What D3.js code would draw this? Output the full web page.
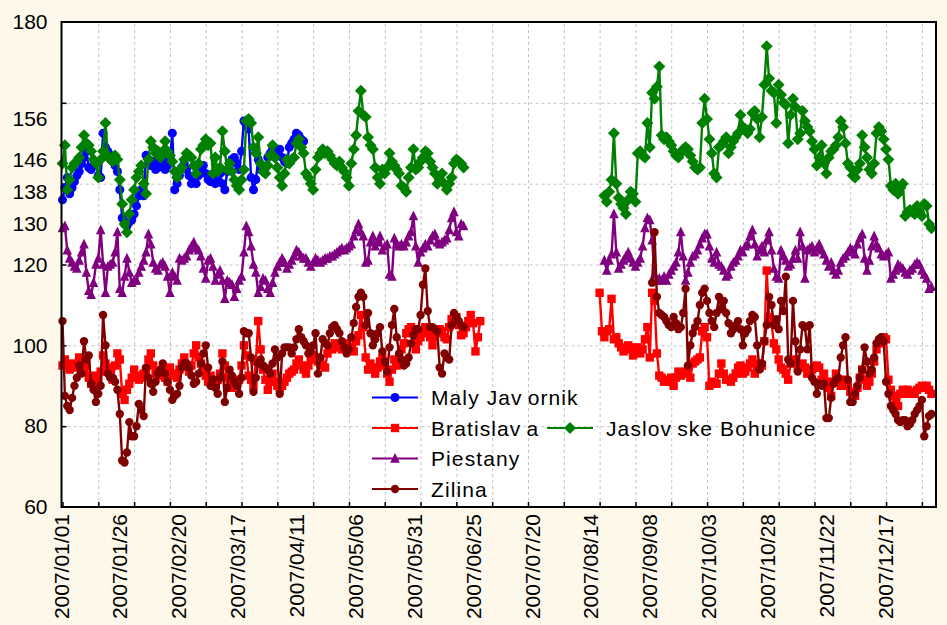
<!DOCTYPE html>
<html>
<head>
<meta charset="utf-8">
<script src="https://cdn.jsdelivr.net/npm/d3@7"></script>
<style>
  html, body { margin: 0; padding: 0; background: #FDF8EA; }
  svg { display: block; }
  text { font-family: "Liberation Sans", Arial, sans-serif; fill: #000; }
</style>
</head>
<body>
<svg id="chart" width="947" height="625"></svg>
<script>
// ---- axis labels ----
const xTickLabels = ["2007/01/01","2007/01/26","2007/02/20","2007/03/17","2007/04/11",
  "2007/05/06","2007/05/31","2007/06/25","2007/07/20","2007/08/14","2007/09/08",
  "2007/10/03","2007/10/28","2007/11/22","2007/12/17"];
const yTickLabels = [60, 80, 100, 120, 130, 138, 146, 156, 180];
const yGridValues = [80, 100, 120, 140, 160];
const gridStepDays = 15;

// ---- daily series, each segment starts on the given date ----
const malyJavornikStart = "2007/01/01";
const malyJavornik = [
  136,139,141.5,137.5,139,140.5,142,143,145,146.5,
  148,144,143.5,144.5,145,142,141.5,152.5,149,148,
  147,146,144.5,143,138.5,131.5,130,129.5,130.5,131,
  132.5,134.5,137,138.5,137,147,146,144.5,145.5,143.5,
  144,145,146,143.5,144.5,146,152.5,138.5,140,142,
  144,145,143.5,142,140,140.5,140,142,143.5,144.5,
  142.5,141,140.5,141.5,140,141,142.5,140,138.5,143,
  145,146,146.5,145,143.5,148,155.5,154.5,153.5,141.5,
  138.5,141,146,143.5,144,144,146.5,147.5,148.5,146.5,
  147,148.5,146.5,145.5,145,149,150,151,152.5,152,
  151,150.5
];

const bratislava1Start = "2007/01/01";
const bratislava1 = [
  95,96.5,95,94,95.5,95,94.5,97,95,94,
  95,92,90.5,92.5,90,92,93.5,97.5,95.5,94.5,
  94,91.5,95,98,96.5,88,86.5,89,90.5,92,
  94,92.5,91.5,92,93,94,96.5,98,95,93,
  92.5,93.5,94,92,91,94.5,93,92.5,92,94,
  95.5,97,95,93.5,95,98,100,97,95.5,94.5,
  92.5,91,92.5,91,90,91.5,93,98,95,92,
  90,89.5,90,91,91.5,95,100,97.5,92.5,91.5,
  90,96,106,99,94,91.5,89,91,93,91,
  90,89.5,90,91,92,93,93.5,94,95.5,96.5,
  95,94,93,95,96.5,97.5,97,96,95.5,95,
  94.5,98,99.5,99,100.5,100,99.5,99,100,100.5,
  99.5,99,98.5,101,102.5,107.5,104.5,97,94,95.5,
  94.5,93,94.5,96,97,95,93,91,94,96.5,
  95,97,99,100.5,103,104,104.5,104,99,101,
  102,103,104.5,103.5,102,100,102,103,104,103.5,
  102,101.5,104.5,106.5,107,107,105,102.5,103,104.5,
  106,107.5,105.5,98.5,102,106
];
const bratislava2Start = "2007/08/14";
const bratislava2 = [
  113,103.5,102,103.5,104,111.5,101.5,102,100.5,99.5,
  98.5,99,100,99.5,97.5,98.5,99.5,98,99,101.5,
  104.5,97,113,111,98,92.5,92,91,91.5,91,
  92,90,92,93.5,92.5,93,93.5,94,92,95.5,
  96,96.5,97,103.5,104.5,102,90,91,90.5,90.5,
  93,95.5,93,91.5,91.5,91,92,93,94.5,95,
  93,93.5,94.5,95.5,96.5,93,95.5,94.5,95,101,
  118.5,107,105.5,100.5,99,96.5,94.5,94,93,91.5,
  95.5,96,96.5,94.5,95,95.5,94.5,93,94,94,
  94.5,95,94.5,91.5,93,91,89.5,87.5,91,93,
  91.5,90,91.5,91,90,88.5,88,87.5,89.5,92,
  94,91.5,90,91,93,96,99,100.5,101.5,102,
  101.5,91.5,89,87.5,86,85,88,89,88,89,
  88.5,88,88,89,89.5,90,89.5,90,89,88
];

const jaslovske1Start = "2007/01/01";
const jaslovske1 = [
  145,149.5,138.5,141,144,145,145.5,146.5,149,152,
  150,149.5,148,146,145,141.5,146,148,155,147,
  146,145.5,147,146,141,135,130,128,132.5,136,
  138.5,141.5,143,144.5,140,137.5,146,150.5,149,147.5,
  148,146.5,148,150.5,148,147,145.5,143,141.5,143,
  144,146,147.5,147,146.5,144.5,142.5,145,148.5,149.5,
  151,149.5,150,142.5,146.5,143,144,153,148,143.5,
  145,143,141,139.5,138.5,141,143.5,155.5,156,155,
  149,147.5,151.5,145,143,142.5,144.5,147,149.5,146.5,
  144,141.5,139.5,142.5,146,145,146,146.5,150,151,
  149,147.5,142.5,141.5,140,138.5,143.5,146.5,147.5,148.5,
  147.5,148,147,146,145,144.5,145.5,144,143,141.5,
  139.5,145,148.5,152,158,163,157,156.5,151.5,149.5,
  148.5,144,141.5,140,143.5,142.5,144,147.5,145.5,144.5,
  143.5,142.5,139.5,139,138,141.5,144,148.5,143.5,144,
  145.5,146.5,148,147.5,145.5,144,142.5,140,141,142.5,
  140,138.5,140,141.5,145,146,145.5,145,144
];
const jaslovske2Start = "2007/08/16";
const jaslovske2 = [
  137,135.5,138,141,152.5,140,136.5,135,134,132.5,
  136,138,137.5,135.5,147.5,148,147,146.5,155,149,
  162.5,161,164,169,152,151,151.5,150.5,149.5,148,
  147,146.5,147.5,148.5,149,148.5,147,145.5,144,143.5,
  144,155,161,156,151,147.5,142.5,141.5,149,149.5,
  150.5,151.5,147.5,149,150.5,151.5,152.5,157,154,153.5,
  152.5,153.5,157.5,158,156,151.5,156.5,164.5,174,166,
  163,162.5,155,164.5,162,160,159.5,150,157,161,
  159,151,152.5,158,155.5,154,153,150.5,148.5,144.5,
  146.5,149.5,145,142.5,146.5,148,148.5,149.5,151.5,155.5,
  154,150,145,144,142,141.5,143.5,145,152,149,
  146.5,143.5,142.5,145,152.5,154,153,151,148.5,146,
  139.5,138.5,140,137.5,139,140,132,133,133.5,133,
  132.5,134.5,133,132,135,134.5,130,129
];

const piestany1Start = "2007/01/01";
const piestany1 = [
  129,129.5,123.5,121.5,120.5,119.5,119,121,123,125,
  118,113.5,112.5,115.5,120,121.5,128.5,120,113,119.5,
  120,120.5,123,128,114,113,117,121.5,118,115.5,
  116,116,118,119.5,121,123,127.5,125,120.5,119,
  118.5,120,120.5,119.5,117,113,118,117,116,121.5,
  121,121.5,122,123.5,124.5,125.5,124,123.5,122,119,
  116.5,121,121.5,119.5,116,117.5,118.5,116,111.5,116,
  115.5,115,112,114,116,117,123,129.5,128,124.5,
  120,118,113,114.5,116.5,116,114,113,115.5,118,
  119.5,120.5,121.5,120.5,119,120,121,122,123.5,123,
  122,121.5,121.5,120.5,119.5,120.5,121.5,121,120.5,121,
  121.5,121.5,122,122,122.5,123,123.5,124,123.5,124,
  124.5,125,127,128.5,130,128,127,120.5,121,125.5,
  127,124.5,125.5,127,123.5,124.5,125,117.5,117,126.5,
  125,124.5,125,124.5,125.5,127,128,132,124.5,120.5,
  123,124,125,124.5,126,127,127.5,125.5,125,125.5,
  126,126.5,128.5,131.5,133,128,127,130,129.5
];
const piestany2Start = "2007/08/16";
const piestany2 = [
  121,118.5,121,122.5,132.5,123,119,120,121,122,
  123,121.5,120.5,119.5,120.5,121.5,124.5,129,131.5,131,
  126,117.5,116,116.5,116,117,116,117.5,118.5,119.5,
  120.5,123,128,122,116,118,120.5,122,122.5,123.5,
  125,126.5,127.5,127.5,124.5,121.5,120.5,123,120,119.5,
  118.5,117,117.5,119.5,120.5,121,122,123.5,123,124.5,
  125,127,128.5,125,122,123.5,124.5,123,126,128,
  123.5,119,117,116.5,123.5,122,121,119.5,120,121.5,
  123.5,121.5,128,124.5,116.5,123.5,124,124.5,123,124,
  125,123.5,122.5,121,119.5,120.5,118.5,117.5,118.5,120.5,
  121.5,122,123,124,123.5,122.5,125,126.5,127.5,121.5,
  118.5,121,124.5,127,125,124,122.5,122,122.5,123,
  116.5,117.5,118.5,120,119.5,119,118,117.5,118.5,119,
  120,120.5,120,118.5,117.5,116.5,114,114.5
];

const zilina1Start = "2007/01/01";
const zilina1 = [
  106,87.5,85,84,87,90,92,95,93,101,
  96.5,97.5,90.5,89,86,88,90,107.5,100,93,
  92,92,91,89,83,71.5,71,73.5,81,77.5,
  77.5,80,85.5,84,82.5,94.5,92,90.5,88.5,91,
  93,94,95.5,93,91,89,86.5,87.5,88,90,
  94.5,95.5,95.5,94.5,92.5,90.5,91,93,95.5,98,
  100,94.5,90,91.5,89.5,88,92,96,86,89.5,
  94,92.5,91,90,88,92,103.5,103,103,97,
  88.5,92,95.5,96.5,95,94.5,94,93,95.5,99,
  97,88,98,99.5,99.5,99.5,98,99.5,101.5,104,
  102,101,100,98,98.5,100,103,93,97,101.5,
  100.5,100,103,104.5,105,104,103,101,99.5,98,
  99,102,105.5,109.5,112,113,112,105,108,103,
  100,101.5,103,104.5,98.5,96,93.5,99.5,105,109,
  102,98,96.5,95,95.5,97,100.5,102.5,104,104,
  107.5,115,119,108.5,104.5,104.5,104,103.5,94.5,93,
  98,97,96.5,105,108,107,106,105,104.5
];
const zilina2Start = "2007/09/05";
const zilina2 = [
  115.5,128,112,108,107.5,107,106,105,104.5,107,
  105.5,104,104.5,108,114,95,100,103,104.5,106,
  110,113,114,111,108,106,104.5,108,112,109,
  111,108,105.5,103,104,105,106,104,100,103,
  104,106,107.5,107,100,94,95.5,101,105,112,
  110,105,106.5,104,111,108.5,117,96.5,95.5,111,
  101,93.5,99,105,104.5,99,105,92,91,88,
  90.5,90,90.5,82,82,87,90.5,91.5,92,97,
  100,102,91.5,86,86,88,90,92,94,99.5,
  96,93,94,97,100.5,101.5,102,101,91,88,
  85,84,83,81.5,81,81.5,81.5,80,80.5,81.5,
  83,84,85,86.5,77.5,80,82.5,83
];

// ---- series definitions (drawing order) ----
const series = [
  { name: "Maly Javornik", color: "#0000FF", marker: "circle",
    segments: [[malyJavornikStart, malyJavornik]] },
  { name: "Bratislava", color: "#FF0000", marker: "square",
    segments: [[bratislava1Start, bratislava1], [bratislava2Start, bratislava2]] },
  { name: "Jaslovske Bohunice", color: "#008000", marker: "diamond",
    segments: [[jaslovske1Start, jaslovske1], [jaslovske2Start, jaslovske2]] },
  { name: "Piestany", color: "#800080", marker: "triangle",
    segments: [[piestany1Start, piestany1], [piestany2Start, piestany2]] },
  { name: "Zilina", color: "#800000", marker: "darkcircle",
    segments: [[zilina1Start, zilina1], [zilina2Start, zilina2]] }
];

// ---- layout ----
const W = 947, H = 625;
const plot = { left: 61.5, top: 22, right: 936, bottom: 507 };
const parseDate = d3.utcParse("%Y/%m/%d");
const day0 = parseDate("2007/01/01");
const dayEnd = d3.utcDay.offset(day0, 366);

const x = d3.scaleUtc().domain([day0, dayEnd]).range([62.5, 936.2]);
// the date captions run on a slightly tighter spacing than the plotted days
const xCaption = d3.scaleUtc().domain([day0, dayEnd]).range([60.5, 60.5 + 366 * 2.355]);
const y = d3.scaleLinear().domain([60, 180]).range([plot.bottom, plot.top]);

const svg = d3.select("#chart");
svg.append("rect").attr("width", W).attr("height", H).attr("fill", "#FDF8EA");
svg.append("rect")
  .attr("x", plot.left).attr("y", plot.top)
  .attr("width", plot.right - plot.left).attr("height", plot.bottom - plot.top)
  .attr("fill", "#FFFFFF");

// grid lines
const gridDates = d3.range(gridStepDays, 361, gridStepDays).map(d => d3.utcDay.offset(day0, d));
const grid = svg.append("g");
grid.append("g")
  .attr("transform", `translate(0,${plot.bottom})`)
  .call(d3.axisBottom(x).tickValues(gridDates).tickSize(-(plot.bottom - plot.top)).tickFormat(""))
  .call(g => g.select(".domain").remove());
grid.append("g")
  .attr("transform", `translate(${plot.left},0)`)
  .call(d3.axisLeft(y).tickValues(yGridValues).tickSize(-(plot.right - plot.left)).tickFormat(""))
  .call(g => g.select(".domain").remove());
grid.selectAll("line")
  .attr("stroke", "#C4C4C4").attr("stroke-width", 1).attr("stroke-dasharray", "3,3");

// inner tick marks
svg.append("g")
  .attr("transform", `translate(0,${plot.bottom})`)
  .call(d3.axisBottom(x).tickValues([day0, ...gridDates]).tickSize(-5).tickFormat(""))
  .call(g => g.select(".domain").remove())
  .selectAll("line").attr("stroke", "#000").attr("stroke-width", 1.5);
svg.append("g")
  .attr("transform", `translate(${plot.left},0)`)
  .call(d3.axisLeft(y).tickValues(yGridValues).tickSize(-5).tickFormat(""))
  .call(g => g.select(".domain").remove())
  .selectAll("line").attr("stroke", "#000").attr("stroke-width", 1.5);

// y labels
const yAxis = svg.append("g")
  .attr("transform", `translate(${plot.left},0)`)
  .call(d3.axisLeft(y).tickValues(yTickLabels).tickSize(0).tickPadding(14).tickFormat(d3.format("d")));
yAxis.select(".domain").remove();
yAxis.selectAll("text").attr("font-size", 21).attr("font-family", "Liberation Sans, Arial, sans-serif");

// x labels (rotated)
const xAxis = svg.append("g")
  .attr("transform", `translate(0,${plot.bottom})`)
  .call(d3.axisBottom(xCaption).tickValues(xTickLabels.map(parseDate)).tickSize(0)
    .tickFormat(d3.utcFormat("%Y/%m/%d")));
xAxis.select(".domain").remove();
xAxis.selectAll("text")
  .attr("font-size", 21)
  .attr("font-family", "Liberation Sans, Arial, sans-serif")
  .attr("transform", "rotate(-90)")
  .attr("text-anchor", "end")
  .attr("x", -7).attr("y", 0).attr("dy", "0.36em");

// markers
function markerPath(kind) {
  switch (kind) {
    case "square": return "M-4.2,-4.2H4.2V4.2H-4.2Z";
    case "diamond": return "M0,-6L6,0L0,6L-6,0Z";
    case "triangle": return "M0,-5.6L4.8,4.2L-4.8,4.2Z";
    case "circle": return d3.symbol(d3.symbolCircle, 64)();
    default: return d3.symbol(d3.symbolCircle, 55)();
  }
}

const line = d3.line().x(d => x(d.date)).y(d => y(d.v));
const dataLayer = svg.append("g");
series.forEach(s => {
  const g = dataLayer.append("g");
  s.segments.forEach(([start, values]) => {
    const s0 = parseDate(start);
    const pts = values.map((v, i) => ({ date: d3.utcDay.offset(s0, i), v }));
    g.append("path").datum(pts)
      .attr("d", line).attr("fill", "none")
      .attr("stroke", s.color).attr("stroke-width", 2.4).attr("stroke-linejoin", "round");
    g.selectAll(null).data(pts).join("path")
      .attr("d", markerPath(s.marker))
      .attr("transform", d => `translate(${x(d.date)},${y(d.v)})`)
      .attr("fill", s.color);
  });
});

// frame
svg.append("rect")
  .attr("x", plot.left).attr("y", plot.top)
  .attr("width", plot.right - plot.left).attr("height", plot.bottom - plot.top)
  .attr("fill", "none").attr("stroke", "#000").attr("stroke-width", 2);

// legend
const legendItems = [
  { s: series[0], x: 372, y: 397.5 },
  { s: series[1], x: 372, y: 428 },
  { s: series[2], x: 547, y: 428 },
  { s: series[3], x: 372, y: 458.5 },
  { s: series[4], x: 372, y: 489 }
];
const legend = svg.append("g");
legendItems.forEach(it => {
  const g = legend.append("g").attr("transform", `translate(${it.x},${it.y})`);
  g.append("line").attr("x1", 0).attr("x2", 46).attr("y1", 0).attr("y2", 0)
    .attr("stroke", it.s.color).attr("stroke-width", 2);
  g.append("path").attr("d", markerPath(it.s.marker))
    .attr("transform", "translate(23,0)").attr("fill", it.s.color);
  const t = g.append("text").attr("x", 59).attr("y", 0).attr("dy", "0.36em")
    .attr("font-size", 21).attr("letter-spacing", 1.1);
  // wide gap after each "v", as in the original typesetting
  const parts = it.s.name.split("v");
  parts.forEach((p, i) => {
    const span = t.append("tspan").text(i < parts.length - 1 ? p + "v" : p);
    if (i > 0) span.attr("dx", 5);
  });
});
</script>
</body>
</html>
